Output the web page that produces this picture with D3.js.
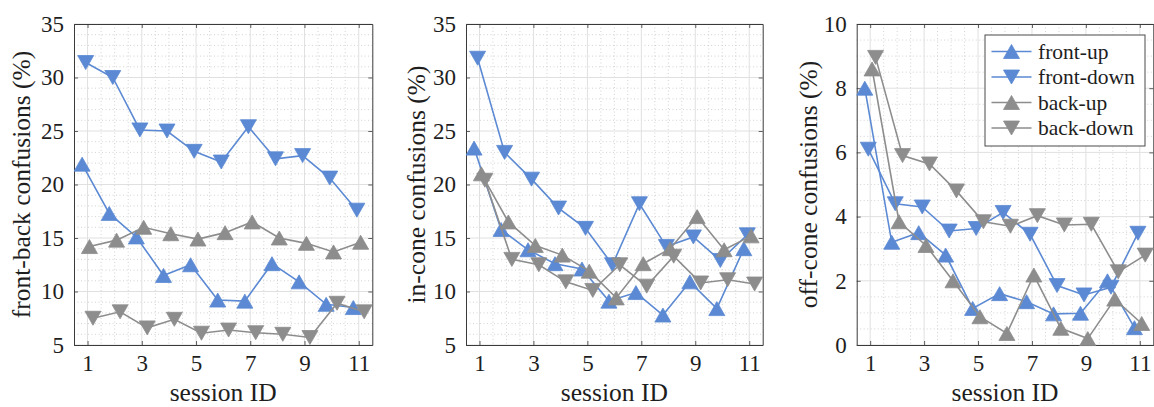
<!DOCTYPE html>
<html><head><meta charset="utf-8">
<script src="https://cdn.jsdelivr.net/npm/d3@7"></script>
<style>
body{margin:0;background:#fff}
svg{display:block}
text{font-family:"Liberation Serif","DejaVu Serif","Noto Serif",serif;fill:#1e1e1e}
</style>
</head><body>
<svg id="chart" width="1154" height="407"></svg>
<script>
// ---------------- data ----------------
const sessions = [1,2,3,4,5,6,7,8,9,10,11];
const xTickValues = [1,3,5,7,9,11];
const seriesNames = ["front-up","front-down","back-up","back-down"];

const fbFrontUp   = [21.9,17.3,15.1,11.5,12.5,9.2,9.1,12.6,10.9,8.8,8.5];
const fbFrontDown = [31.4,30.0,25.1,25.0,23.1,22.1,25.4,22.4,22.7,20.6,17.6];
const fbBackUp    = [14.2,14.8,16.0,15.4,14.9,15.5,16.5,15.0,14.5,13.7,14.6];
const fbBackDown  = [7.5,8.1,6.6,7.4,6.1,6.4,6.15,6.0,5.7,8.9,8.1];

const icFrontUp   = [23.4,15.8,13.9,12.6,12.1,9.1,9.9,7.8,10.9,8.4,14.0];
const icFrontDown = [31.8,23.0,20.5,17.8,15.9,12.5,18.2,14.2,15.1,12.9,15.3];
const icBackUp    = [21.0,16.5,14.3,13.4,11.9,9.4,12.6,14.0,17.0,13.9,15.2];
const icBackDown  = [20.4,13.0,12.5,10.9,10.1,12.5,10.5,13.3,10.8,11.1,10.7];

const ocFrontUp   = [8.0,3.2,3.5,2.8,1.14,1.6,1.35,0.97,0.99,2.0,0.54];
const ocFrontDown = [6.1,4.4,4.3,3.55,3.63,4.13,3.45,1.85,1.56,1.8,3.48];
const ocBackUp    = [8.6,3.84,3.1,2.0,0.88,0.36,2.18,0.52,0.2,1.43,0.67];
const ocBackDown  = [8.96,5.9,5.64,4.8,3.84,3.7,4.03,3.74,3.76,2.28,2.8];

const yTicksPct = [5,10,15,20,25,30,35];
const yTicksOff = [0,2,4,6,8,10];
const yLabels = ["front-back confusions (%)","in-cone confusions (%)","off-cone confusions (%)"];
const xLabel = "session ID";

// ---------------- styling / layout ----------------
const FONT = '"Liberation Serif","DejaVu Serif","Noto Serif",serif';
const BLUE = "#5b89d3", GREY = "#8d8d8d";
const seriesStyle = [
  {color:BLUE, dir:"up",   dx:-0.2},
  {color:BLUE, dir:"down", dx:-0.07},
  {color:GREY, dir:"up",   dx:0.07},
  {color:GREY, dir:"down", dx:0.2}
];
const panels = [
  {left:74,    right:372.3,  yDomain:[5,35], yTicks:yTicksPct, yMinorStep:1,   data:[fbFrontUp,fbFrontDown,fbBackUp,fbBackDown], labelX:30,  label:yLabels[0]},
  {left:466,   right:762.7,  yDomain:[5,35], yTicks:yTicksPct, yMinorStep:1,   data:[icFrontUp,icFrontDown,icBackUp,icBackDown], labelX:425, label:yLabels[1]},
  {left:856.7, right:1153.3, yDomain:[0,10], yTicks:yTicksOff, yMinorStep:0.5, data:[ocFrontUp,ocFrontDown,ocBackUp,ocBackDown], labelX:817, label:yLabels[2], legend:true}
];
const TOP = 24, BOTTOM = 345;

const triUp = {draw(ctx,size){const w=16,h=14;ctx.moveTo(0,-h/2);ctx.lineTo(w/2,h/2);ctx.lineTo(-w/2,h/2);ctx.closePath();}};
const triDown = {draw(ctx,size){const w=16,h=14;ctx.moveTo(0,h/2);ctx.lineTo(w/2,-h/2);ctx.lineTo(-w/2,-h/2);ctx.closePath();}};

const svg = d3.select("#chart");

panels.forEach(p => {
  const x = d3.scaleLinear().domain([0.5,11.5]).range([p.left,p.right]);
  const y = d3.scaleLinear().domain(p.yDomain).range([BOTTOM,TOP]);
  const g = svg.append("g");

  g.append("rect").attr("x",p.left).attr("y",TOP).attr("width",p.right-p.left).attr("height",BOTTOM-TOP).attr("fill","#fff");

  // minor grid
  const xMinor = d3.range(1,11.01,0.5).filter(v => !xTickValues.includes(v));
  const yMinor = d3.range(p.yDomain[0], p.yDomain[1]+1e-6, p.yMinorStep).filter(v => !p.yTicks.some(t=>Math.abs(t-v)<1e-6));
  g.selectAll(".xm").data(xMinor).join("line")
    .attr("x1",d=>x(d)).attr("x2",d=>x(d)).attr("y1",TOP).attr("y2",BOTTOM)
    .attr("stroke","#c8c8c8").attr("stroke-width",0.8).attr("stroke-dasharray","1,2.5");
  g.selectAll(".ym").data(yMinor).join("line")
    .attr("x1",p.left).attr("x2",p.right).attr("y1",d=>y(d)).attr("y2",d=>y(d))
    .attr("stroke","#c8c8c8").attr("stroke-width",0.8).attr("stroke-dasharray","1,2.5");
  // major grid
  g.selectAll(".xg").data(xTickValues).join("line")
    .attr("x1",d=>x(d)).attr("x2",d=>x(d)).attr("y1",TOP).attr("y2",BOTTOM)
    .attr("stroke","#e0e0e0").attr("stroke-width",1);
  g.selectAll(".yg").data(p.yTicks).join("line")
    .attr("x1",p.left).attr("x2",p.right).attr("y1",d=>y(d)).attr("y2",d=>y(d))
    .attr("stroke","#e0e0e0").attr("stroke-width",1);

  // axes
  const ax = g.append("g").attr("transform",`translate(0,${BOTTOM})`)
    .call(d3.axisBottom(x).tickValues(xTickValues).tickSizeInner(-4).tickSizeOuter(0).tickPadding(10));
  const axT = g.append("g").attr("transform",`translate(0,${TOP})`)
    .call(d3.axisTop(x).tickValues(xTickValues).tickSizeInner(-4).tickSizeOuter(0).tickFormat(""));
  const ay = g.append("g").attr("transform",`translate(${p.left},0)`)
    .call(d3.axisLeft(y).tickValues(p.yTicks).tickSizeInner(-4).tickSizeOuter(0).tickPadding(10));
  const ayR = g.append("g").attr("transform",`translate(${p.right},0)`)
    .call(d3.axisRight(y).tickValues(p.yTicks).tickSizeInner(-4).tickSizeOuter(0).tickFormat(""));
  [ax,axT,ay,ayR].forEach(a => {
    a.attr("font-family",FONT);
    a.select(".domain").attr("stroke","#3a3a3a").attr("stroke-width",1);
    a.selectAll(".tick line").attr("stroke","#3a3a3a").attr("stroke-width",0.8);
    a.selectAll("text").style("font-family",FONT).attr("font-size",23).attr("fill","#1e1e1e");
  });
  ax.selectAll("text").attr("dy","0.71em");

  // series
  const line = d3.line();
  p.data.forEach((vals,i) => {
    const st = seriesStyle[i];
    const pts = sessions.map((s,j) => [x(s+st.dx), y(vals[j])]);
    g.append("path").attr("d",line(pts)).attr("fill","none").attr("stroke",st.color).attr("stroke-width",1.6);
    g.selectAll(null).data(pts).join("path")
      .attr("d",d3.symbol(st.dir==="up"?triUp:triDown))
      .attr("transform",d=>`translate(${d[0]},${d[1]})`)
      .attr("fill",st.color).attr("stroke",st.color).attr("stroke-width",0.8);
  });

  // labels
  g.append("text").attr("x",(p.left+p.right)/2).attr("y",401).attr("text-anchor","middle")
    .style("font-family",FONT).attr("font-size",25.5).text(xLabel);
  g.append("text").attr("transform",`translate(${p.labelX},${(TOP+BOTTOM)/2}) rotate(-90)`)
    .style("font-family",FONT).attr("text-anchor","middle").attr("font-size",25.5).text(p.label);

  // legend
  if (p.legend) {
    const lg = g.append("g");
    lg.append("rect").attr("x",985).attr("y",35).attr("width",160).attr("height",111)
      .attr("fill","#fff").attr("stroke","#4a4a4a").attr("stroke-width",1);
    seriesNames.forEach((name,i) => {
      const st = seriesStyle[i];
      const yy = 51.5 + i*25.5;
      lg.append("line").attr("x1",991.5).attr("x2",1031.5).attr("y1",yy).attr("y2",yy)
        .attr("stroke",st.color).attr("stroke-width",1.6);
      lg.append("path").attr("d",d3.symbol(st.dir==="up"?triUp:triDown))
        .attr("transform",`translate(1011.5,${yy})`).attr("fill",st.color).attr("stroke",st.color).attr("stroke-width",0.8);
      lg.append("text").attr("x",1038).attr("y",yy+7).style("font-family",FONT).attr("font-size",21.5).text(name);
    });
  }
});
</script>
</body></html>
